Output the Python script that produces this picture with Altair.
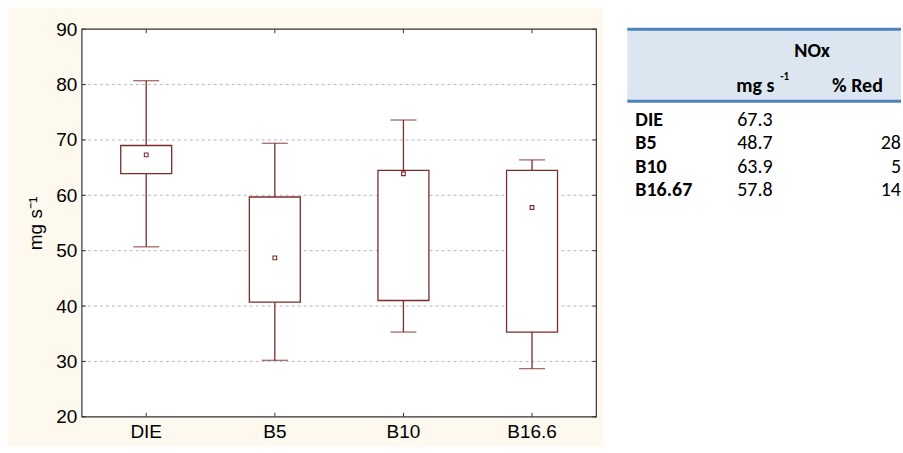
import altair as alt
import pandas as pd

# Box-plot summary per blend (mg s-1)
categories = ["DIE", "B5", "B10", "B16.6"]
whisker_low = [50.7, 30.2, 35.3, 28.7]
box_low = [63.9, 40.7, 41.0, 35.3]
box_high = [69.0, 59.7, 64.5, 64.5]
whisker_high = [80.7, 69.4, 73.6, 66.4]
centre = [67.3, 48.7, 63.9, 57.8]

y_ticks = [20, 30, 40, 50, 60, 70, 80, 90]
grid_values = [30, 40, 50, 60, 70, 80]

# Summary table
table_rows = ["DIE", "B5", "B10", "B16.67"]
table_nox = [67.3, 48.7, 63.9, 57.8]
table_red = ["", "28", "5", "14"]

W, H = 515, 388
TW = 274
MAROON = "#7d2b2b"
CREAM = "#fdf9ee"
AX_FONT = "Liberation Sans"
TB_FONT = "Carlito, Lato, Noto Sans"
TB_SIZE = 20

box_df = pd.DataFrame({
    "cat": categories,
    "wlo": whisker_low,
    "q1": box_low,
    "q3": box_high,
    "whi": whisker_high,
    "mid": centre,
})
grid_df = pd.DataFrame({"v": grid_values})
tick_df = pd.DataFrame({"v": y_ticks})
one = pd.DataFrame({"k": [0]})

y_scale = alt.Scale(domain=[20, 90], nice=False, zero=False)
y_axis = alt.Axis(
    title="mg s⁻¹", values=y_ticks, grid=False, ticks=False, tickSize=0,
    domain=False, labelFont=AX_FONT, titleFont=AX_FONT, labelFontSize=19,
    titleFontSize=19, titleFontWeight="normal", labelColor="black",
    titleColor="black", labelPadding=5, titlePadding=10, zindex=1,
)
x_scale = alt.Scale(domain=categories, paddingInner=0, paddingOuter=0)
x_axis = alt.Axis(
    title=None, labelAngle=0, ticks=False, tickSize=0, domain=False,
    labelFont=AX_FONT, labelFontSize=19, labelColor="black",
    labelPadding=6, zindex=1,
)
X = alt.X("cat:N", scale=x_scale, axis=x_axis, sort=categories)


def Y(field):
    return alt.Y(field, type="quantitative", scale=y_scale, axis=y_axis)


backdrop = alt.Chart(one).mark_rect(fill=CREAM).encode(
    x=alt.value(-74), x2=alt.value(W + 7), y=alt.value(-22), y2=alt.value(H + 30)
)
plot_bg = alt.Chart(one).mark_rect(fill="white").encode(
    x=alt.value(0), x2=alt.value(W), y=alt.value(0), y2=alt.value(H)
)
grid = alt.Chart(grid_df).mark_rule(
    color="#b8b8b8", strokeWidth=1, strokeDash=[3, 3]
).encode(y=Y("v"), x=alt.value(0), x2=alt.value(W))

# small inward ticks on all four sides
tick_l = alt.Chart(tick_df).mark_rule(color="#333").encode(
    y=Y("v"), x=alt.value(0), x2=alt.value(4))
tick_r = alt.Chart(tick_df).mark_rule(color="#333").encode(
    y=Y("v"), x=alt.value(W - 4), x2=alt.value(W))
tick_b = alt.Chart(box_df).mark_rule(color="#333").encode(
    x=X, y=alt.value(H - 4), y2=alt.value(H))
tick_t = alt.Chart(box_df).mark_rule(color="#333").encode(
    x=X, y=alt.value(0), y2=alt.value(4))

base = alt.Chart(box_df)
whisk_lo = base.mark_rule(color=MAROON, strokeWidth=1.3).encode(
    x=X, y=Y("wlo"), y2="q1")
whisk_hi = base.mark_rule(color=MAROON, strokeWidth=1.3).encode(
    x=X, y=Y("q3"), y2="whi")
cap_lo = base.mark_tick(color=MAROON, size=26, thickness=1.3,
                        orient="horizontal").encode(x=X, y=Y("wlo"))
cap_hi = base.mark_tick(color=MAROON, size=26, thickness=1.3,
                        orient="horizontal").encode(x=X, y=Y("whi"))
boxes = base.mark_bar(width=51, fill="white", stroke=MAROON,
                      strokeWidth=1.3).encode(x=X, y=Y("q1"), y2="q3")
dots = base.mark_point(shape="square", size=14, filled=False, color=MAROON,
                       strokeWidth=1.1, opacity=1).encode(x=X, y=Y("mid"))

frame = alt.Chart(one).mark_rect(fillOpacity=0, stroke="#333",
                                 strokeWidth=1.2).encode(
    x=alt.value(0), x2=alt.value(W), y=alt.value(0), y2=alt.value(H)
)

left = alt.layer(
    backdrop, plot_bg, grid, whisk_lo, whisk_hi, cap_lo, cap_hi, boxes, dots,
    tick_l, tick_r, tick_b, tick_t, frame,
).properties(width=W, height=H)

# ---- table ----
tab_df = pd.DataFrame({"row": table_rows, "nox": table_nox, "red": table_red})
ROW_Y = alt.Y("row:N", sort=table_rows, axis=None,
              scale=alt.Scale(type="point", range=[91, 161], padding=0))

head_bg = alt.Chart(one).mark_rect(fill="#dce6f1").encode(
    x=alt.value(0), x2=alt.value(TW), y=alt.value(0), y2=alt.value(72))
head_top = alt.Chart(one).mark_rule(color="#4f81bd", strokeWidth=3).encode(
    x=alt.value(0), x2=alt.value(TW), y=alt.value(0))
head_bot = alt.Chart(one).mark_rule(color="#4f81bd", strokeWidth=3).encode(
    x=alt.value(0), x2=alt.value(TW), y=alt.value(72))


def head_text(txt, x, y, size=TB_SIZE, align="center"):
    return alt.Chart(one).mark_text(
        text=txt, font=TB_FONT, fontSize=size, fontWeight="bold",
        color="black", align=align, baseline="middle",
    ).encode(x=alt.value(x), y=alt.value(y))


h_nox = head_text("NOx", 185, 22)
h_unit = head_text("mg s", 109, 57, align="left")
h_sup = head_text("-1", 153, 48, size=11, align="left")
h_red = head_text("% Red", 205, 57, align="left")

row_lab = alt.Chart(tab_df).mark_text(
    font=TB_FONT, fontSize=TB_SIZE, fontWeight="bold", color="black",
    align="left", baseline="middle",
).encode(x=alt.value(8), y=ROW_Y, text="row:N")
row_nox = alt.Chart(tab_df).mark_text(
    font=TB_FONT, fontSize=TB_SIZE, color="black", align="left",
    baseline="middle",
).encode(x=alt.value(110), y=ROW_Y, text=alt.Text("nox:Q", format=".1f"))
row_red = alt.Chart(tab_df).mark_text(
    font=TB_FONT, fontSize=TB_SIZE, color="black", align="right",
    baseline="middle",
).encode(x=alt.value(TW), y=ROW_Y, text="red:N")

table = alt.layer(
    head_bg, head_top, head_bot, h_nox, h_unit, h_sup, h_red,
    row_lab, row_nox, row_red,
).properties(width=TW, height=H)

chart = alt.hconcat(left, table, spacing=31, bounds="flush").properties(
    padding={"left": 8, "top": 7, "right": 0, "bottom": 0},
    background="white",
).configure_view(stroke=None)

chart.save("out.html", embed_options={"renderer": "svg", "actions": False})
